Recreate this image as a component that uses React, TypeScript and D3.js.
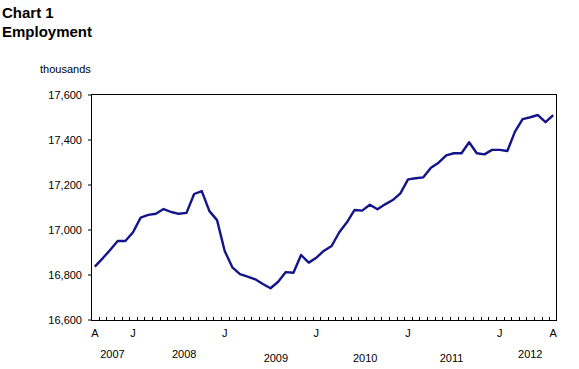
import React from "react";
import * as d3 from "d3";

// Monthly employment (thousands), August 2007 to August 2012
const months: string[] = [
  "2007-08","2007-09","2007-10","2007-11","2007-12",
  "2008-01","2008-02","2008-03","2008-04","2008-05","2008-06","2008-07","2008-08","2008-09","2008-10","2008-11","2008-12",
  "2009-01","2009-02","2009-03","2009-04","2009-05","2009-06","2009-07","2009-08","2009-09","2009-10","2009-11","2009-12",
  "2010-01","2010-02","2010-03","2010-04","2010-05","2010-06","2010-07","2010-08","2010-09","2010-10","2010-11","2010-12",
  "2011-01","2011-02","2011-03","2011-04","2011-05","2011-06","2011-07","2011-08","2011-09","2011-10","2011-11","2011-12",
  "2012-01","2012-02","2012-03","2012-04","2012-05","2012-06","2012-07","2012-08",
];

const employment: number[] = [
  16837, 16873, 16911, 16951, 16951,
  16990, 17055, 17067, 17072, 17093, 17080, 17072, 17076, 17160, 17173, 17084, 17044,
  16907, 16834, 16804, 16793, 16781, 16760, 16741, 16770, 16813, 16810, 16889, 16855,
  16877, 16908, 16929, 16990, 17034, 17089, 17086, 17112, 17092, 17114, 17133, 17163,
  17225, 17230, 17234, 17277, 17299, 17332, 17341, 17341, 17390, 17341, 17336, 17356,
  17356, 17351, 17437, 17493, 17501, 17511, 17479, 17511,
];

const monthLabels: { month: string; label: string }[] = [
  { month: "2007-08", label: "A" },
  { month: "2008-01", label: "J" },
  { month: "2009-01", label: "J" },
  { month: "2010-01", label: "J" },
  { month: "2011-01", label: "J" },
  { month: "2012-01", label: "J" },
  { month: "2012-08", label: "A" },
];

const yearLabels: string[] = ["2007", "2008", "2009", "2010", "2011", "2012"];
const yearAnchorIndex: number[] = [2.3, 11.7, 23.7, 35.4, 46.7, 57];
const yearLow: boolean[] = [false, false, true, true, true, false];

const yTicks: number[] = [16600, 16800, 17000, 17200, 17400, 17600];

const W = 579;
const H = 369;
const plot = { left: 91, right: 557, top: 95, bottom: 320 };
const FONT = "'Liberation Sans', Arial, sans-serif";

export default function App() {
  const x = d3
    .scaleBand<string>()
    .domain(months)
    .range([plot.left, plot.right])
    .paddingInner(0)
    .paddingOuter(0);
  const bw = x.bandwidth();
  const cx = (m: string) => (x(m) as number) + bw / 2;
  const cxi = (i: number) => plot.left + (i + 0.5) * bw;

  const y = d3.scaleLinear().domain([16600, 17600]).range([plot.bottom, plot.top]);

  const line = d3
    .line<number>()
    .x((_, i) => cx(months[i]))
    .y((d) => y(d));

  const boundaries = months.slice(1).map((m) => x(m) as number);

  return (
    <svg
      width={W}
      height={H}
      style={{ position: "absolute", left: 0, top: 0, background: "#fff" }}
      fontFamily={FONT}
    >
      <text x={2} y={17.5} fontSize={15} fontWeight="bold" fill="#000">
        Chart 1
      </text>
      <text x={2} y={37} fontSize={15} fontWeight="bold" fill="#000">
        Employment
      </text>
      <text x={40} y={72.5} fontSize={11} fill="#000">
        thousands
      </text>

      {/* y-axis ticks and labels */}
      {yTicks.map((t) => (
        <g key={t}>
          <line x1={plot.left - 3} x2={plot.left} y1={y(t)} y2={y(t)} stroke="#000" strokeWidth={1} />
          <text x={82} y={y(t) + 4} fontSize={11} textAnchor="end" fill="#000">
            {d3.format(",")(t)}
          </text>
        </g>
      ))}

      {/* bottom minor ticks */}
      {boundaries.map((b, i) => (
        <line
          key={i}
          x1={Math.round(b) + 0.5}
          x2={Math.round(b) + 0.5}
          y1={plot.bottom}
          y2={plot.bottom - 3}
          stroke="#000"
          strokeWidth={1}
        />
      ))}

      {/* plot frame */}
      <rect
        x={plot.left + 0.5}
        y={plot.top - 0.5}
        width={plot.right - plot.left - 1}
        height={plot.bottom - plot.top + 1}
        fill="none"
        stroke="#000"
        strokeWidth={1}
      />

      {/* data line */}
      <path
        d={line(employment) || ""}
        fill="none"
        stroke="#14148a"
        strokeWidth={2.4}
        strokeLinejoin="round"
      />

      {/* month labels */}
      {monthLabels.map((ml, i) => (
        <text key={i} x={cx(ml.month)} y={337} fontSize={11} textAnchor="middle" fill="#000">
          {ml.label}
        </text>
      ))}

      {/* year labels */}
      {yearLabels.map((yl, i) => (
        <text
          key={yl}
          x={cxi(yearAnchorIndex[i])}
          y={yearLow[i] ? 361.5 : 358.3}
          fontSize={11}
          textAnchor="middle"
          fill="#000"
        >
          {yl}
        </text>
      ))}
    </svg>
  );
}
